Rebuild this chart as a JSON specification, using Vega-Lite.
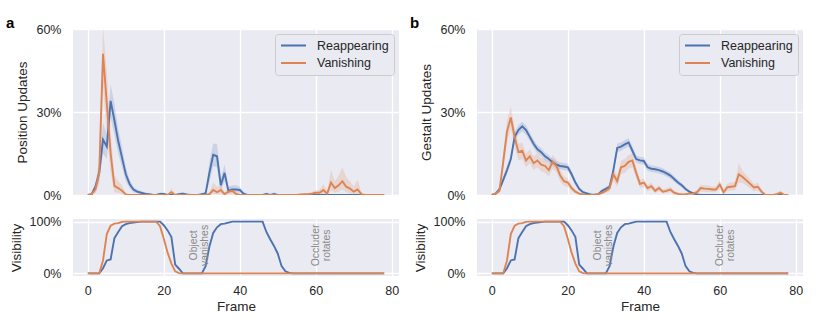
{
"$schema": "https://vega.github.io/schema/vega-lite/v6.json",
"background": "white",
"padding": {"left": 5, "top": 16, "right": 17, "bottom": 5},
"config": {
  "font": "Liberation Sans",
  "view": {"fill": "#EAEAF2", "stroke": null},
  "axis": {"domain": false, "ticks": false, "tickSize": 0, "gridColor": "#FFFFFF", "gridWidth": 1.3, "labelFont": "Liberation Sans", "titleFont": "Liberation Sans", "labelFontSize": 12.5, "titleFontSize": 13.5, "labelColor": "#262626", "titleColor": "#262626", "titleFontWeight": "normal", "labelPadding": 12, "titlePadding": 6},
  "axisX": {"labelPadding": 8, "titlePadding": 3},
  "legend": {"orient": "top-right", "offset": 5, "title": null, "symbolType": "stroke", "symbolSize": 625, "symbolStrokeWidth": 1.9, "symbolOpacity": 1, "labelFontSize": 12.5, "labelFont": "Liberation Sans", "labelColor": "#262626", "fillColor": "#EAEAF2", "strokeColor": "#CCCCCC", "padding": 5, "cornerRadius": 3, "rowPadding": 4.5, "labelOffset": 10, "clipHeight": 13}
},
"datasets": {
"upd": [
{"p":"a","s":"Reappearing","f":0,"m":0,"lo":0,"hi":0},
{"p":"a","s":"Reappearing","f":1,"m":0.3,"lo":0,"hi":0.8},
{"p":"a","s":"Reappearing","f":2,"m":3,"lo":1.5,"hi":4.5},
{"p":"a","s":"Reappearing","f":3,"m":8,"lo":5,"hi":11},
{"p":"a","s":"Reappearing","f":4,"m":20,"lo":15,"hi":26},
{"p":"a","s":"Reappearing","f":5,"m":17.5,"lo":13,"hi":22},
{"p":"a","s":"Reappearing","f":6,"m":34,"lo":28,"hi":40},
{"p":"a","s":"Reappearing","f":7,"m":27,"lo":21.5,"hi":33},
{"p":"a","s":"Reappearing","f":8,"m":19.5,"lo":15,"hi":24},
{"p":"a","s":"Reappearing","f":9,"m":13.5,"lo":10,"hi":17.5},
{"p":"a","s":"Reappearing","f":10,"m":7.5,"lo":5,"hi":10},
{"p":"a","s":"Reappearing","f":11,"m":4,"lo":2.5,"hi":5.5},
{"p":"a","s":"Reappearing","f":12,"m":2,"lo":1,"hi":3},
{"p":"a","s":"Reappearing","f":13,"m":1.2,"lo":0.5,"hi":2},
{"p":"a","s":"Reappearing","f":14,"m":0.8,"lo":0.3,"hi":1.5},
{"p":"a","s":"Reappearing","f":15,"m":0.5,"lo":0.1,"hi":1},
{"p":"a","s":"Reappearing","f":16,"m":0.3,"lo":0,"hi":0.6},
{"p":"a","s":"Reappearing","f":17,"m":0.1,"lo":0,"hi":0.3},
{"p":"a","s":"Reappearing","f":18,"m":0,"lo":0,"hi":0},
{"p":"a","s":"Reappearing","f":19,"m":0.4,"lo":0,"hi":0.9},
{"p":"a","s":"Reappearing","f":20,"m":0.4,"lo":0,"hi":0.9},
{"p":"a","s":"Reappearing","f":21,"m":0,"lo":0,"hi":0},
{"p":"a","s":"Reappearing","f":22,"m":0,"lo":0,"hi":0},
{"p":"a","s":"Reappearing","f":23,"m":0,"lo":0,"hi":0},
{"p":"a","s":"Reappearing","f":24,"m":0.3,"lo":0,"hi":0.7},
{"p":"a","s":"Reappearing","f":25,"m":0.5,"lo":0,"hi":1},
{"p":"a","s":"Reappearing","f":26,"m":0.2,"lo":0,"hi":0.5},
{"p":"a","s":"Reappearing","f":27,"m":0,"lo":0,"hi":0},
{"p":"a","s":"Reappearing","f":28,"m":0,"lo":0,"hi":0},
{"p":"a","s":"Reappearing","f":29,"m":0,"lo":0,"hi":0},
{"p":"a","s":"Reappearing","f":30,"m":0.3,"lo":0,"hi":0.7},
{"p":"a","s":"Reappearing","f":31,"m":0.6,"lo":0.1,"hi":1.2},
{"p":"a","s":"Reappearing","f":32,"m":8,"lo":4.5,"hi":12},
{"p":"a","s":"Reappearing","f":33,"m":14.5,"lo":10.5,"hi":18.5},
{"p":"a","s":"Reappearing","f":34,"m":14,"lo":10,"hi":18.5},
{"p":"a","s":"Reappearing","f":35,"m":3.5,"lo":1.5,"hi":6},
{"p":"a","s":"Reappearing","f":36,"m":8,"lo":5,"hi":11},
{"p":"a","s":"Reappearing","f":37,"m":1.5,"lo":0.5,"hi":3},
{"p":"a","s":"Reappearing","f":38,"m":2,"lo":1,"hi":3.5},
{"p":"a","s":"Reappearing","f":39,"m":2,"lo":1,"hi":3.5},
{"p":"a","s":"Reappearing","f":40,"m":1.8,"lo":0.8,"hi":3},
{"p":"a","s":"Reappearing","f":41,"m":0.5,"lo":0,"hi":1.2},
{"p":"a","s":"Reappearing","f":42,"m":0,"lo":0,"hi":0},
{"p":"a","s":"Reappearing","f":43,"m":0,"lo":0,"hi":0},
{"p":"a","s":"Reappearing","f":44,"m":0,"lo":0,"hi":0},
{"p":"a","s":"Reappearing","f":45,"m":0,"lo":0,"hi":0},
{"p":"a","s":"Reappearing","f":46,"m":0,"lo":0,"hi":0},
{"p":"a","s":"Reappearing","f":47,"m":0.4,"lo":0,"hi":1},
{"p":"a","s":"Reappearing","f":48,"m":0,"lo":0,"hi":0},
{"p":"a","s":"Reappearing","f":49,"m":0.4,"lo":0,"hi":1},
{"p":"a","s":"Reappearing","f":50,"m":0,"lo":0,"hi":0},
{"p":"a","s":"Reappearing","f":51,"m":0,"lo":0,"hi":0},
{"p":"a","s":"Reappearing","f":52,"m":0,"lo":0,"hi":0},
{"p":"a","s":"Reappearing","f":53,"m":0,"lo":0,"hi":0},
{"p":"a","s":"Reappearing","f":54,"m":0,"lo":0,"hi":0},
{"p":"a","s":"Reappearing","f":55,"m":0,"lo":0,"hi":0},
{"p":"a","s":"Reappearing","f":56,"m":0,"lo":0,"hi":0},
{"p":"a","s":"Reappearing","f":57,"m":0,"lo":0,"hi":0},
{"p":"a","s":"Reappearing","f":58,"m":0,"lo":0,"hi":0},
{"p":"a","s":"Reappearing","f":59,"m":0,"lo":0,"hi":0},
{"p":"a","s":"Reappearing","f":60,"m":0,"lo":0,"hi":0},
{"p":"a","s":"Reappearing","f":61,"m":0,"lo":0,"hi":0},
{"p":"a","s":"Reappearing","f":62,"m":0,"lo":0,"hi":0},
{"p":"a","s":"Reappearing","f":63,"m":0,"lo":0,"hi":0},
{"p":"a","s":"Reappearing","f":64,"m":0,"lo":0,"hi":0},
{"p":"a","s":"Reappearing","f":65,"m":0,"lo":0,"hi":0},
{"p":"a","s":"Reappearing","f":66,"m":0,"lo":0,"hi":0},
{"p":"a","s":"Reappearing","f":67,"m":0,"lo":0,"hi":0},
{"p":"a","s":"Reappearing","f":68,"m":0,"lo":0,"hi":0},
{"p":"a","s":"Reappearing","f":69,"m":0,"lo":0,"hi":0},
{"p":"a","s":"Reappearing","f":70,"m":0,"lo":0,"hi":0},
{"p":"a","s":"Reappearing","f":71,"m":0,"lo":0,"hi":0},
{"p":"a","s":"Reappearing","f":72,"m":0,"lo":0,"hi":0},
{"p":"a","s":"Reappearing","f":73,"m":0,"lo":0,"hi":0},
{"p":"a","s":"Reappearing","f":74,"m":0,"lo":0,"hi":0},
{"p":"a","s":"Reappearing","f":75,"m":0,"lo":0,"hi":0},
{"p":"a","s":"Reappearing","f":76,"m":0,"lo":0,"hi":0},
{"p":"a","s":"Reappearing","f":77,"m":0,"lo":0,"hi":0},
{"p":"a","s":"Reappearing","f":78,"m":0,"lo":0,"hi":0},
{"p":"a","s":"Vanishing","f":0,"m":0,"lo":0,"hi":0},
{"p":"a","s":"Vanishing","f":1,"m":0.3,"lo":0,"hi":0.8},
{"p":"a","s":"Vanishing","f":2,"m":2,"lo":0.5,"hi":3.5},
{"p":"a","s":"Vanishing","f":3,"m":8,"lo":4,"hi":13},
{"p":"a","s":"Vanishing","f":4,"m":51,"lo":39,"hi":61},
{"p":"a","s":"Vanishing","f":5,"m":33,"lo":22,"hi":45},
{"p":"a","s":"Vanishing","f":6,"m":15,"lo":8,"hi":23},
{"p":"a","s":"Vanishing","f":7,"m":3.3,"lo":1,"hi":7},
{"p":"a","s":"Vanishing","f":8,"m":2.5,"lo":0.8,"hi":5},
{"p":"a","s":"Vanishing","f":9,"m":1.5,"lo":0.3,"hi":3.5},
{"p":"a","s":"Vanishing","f":10,"m":0.2,"lo":0,"hi":0.5},
{"p":"a","s":"Vanishing","f":11,"m":0,"lo":0,"hi":0},
{"p":"a","s":"Vanishing","f":12,"m":0,"lo":0,"hi":0},
{"p":"a","s":"Vanishing","f":13,"m":0,"lo":0,"hi":0},
{"p":"a","s":"Vanishing","f":14,"m":0,"lo":0,"hi":0},
{"p":"a","s":"Vanishing","f":15,"m":0,"lo":0,"hi":0},
{"p":"a","s":"Vanishing","f":16,"m":0,"lo":0,"hi":0},
{"p":"a","s":"Vanishing","f":17,"m":0,"lo":0,"hi":0},
{"p":"a","s":"Vanishing","f":18,"m":0,"lo":0,"hi":0},
{"p":"a","s":"Vanishing","f":19,"m":0,"lo":0,"hi":0},
{"p":"a","s":"Vanishing","f":20,"m":0,"lo":0,"hi":0},
{"p":"a","s":"Vanishing","f":21,"m":0,"lo":0,"hi":0},
{"p":"a","s":"Vanishing","f":22,"m":1,"lo":0,"hi":2.5},
{"p":"a","s":"Vanishing","f":23,"m":0,"lo":0,"hi":0},
{"p":"a","s":"Vanishing","f":24,"m":0,"lo":0,"hi":0},
{"p":"a","s":"Vanishing","f":25,"m":0,"lo":0,"hi":0},
{"p":"a","s":"Vanishing","f":26,"m":0,"lo":0,"hi":0},
{"p":"a","s":"Vanishing","f":27,"m":0,"lo":0,"hi":0},
{"p":"a","s":"Vanishing","f":28,"m":0,"lo":0,"hi":0},
{"p":"a","s":"Vanishing","f":29,"m":0,"lo":0,"hi":0},
{"p":"a","s":"Vanishing","f":30,"m":0,"lo":0,"hi":0},
{"p":"a","s":"Vanishing","f":31,"m":0,"lo":0,"hi":0},
{"p":"a","s":"Vanishing","f":32,"m":0.3,"lo":0,"hi":1},
{"p":"a","s":"Vanishing","f":33,"m":1.8,"lo":0.3,"hi":4.5},
{"p":"a","s":"Vanishing","f":34,"m":1,"lo":0.2,"hi":3},
{"p":"a","s":"Vanishing","f":35,"m":1.8,"lo":0.3,"hi":3.5},
{"p":"a","s":"Vanishing","f":36,"m":0.3,"lo":0,"hi":1},
{"p":"a","s":"Vanishing","f":37,"m":1.2,"lo":0.2,"hi":2.5},
{"p":"a","s":"Vanishing","f":38,"m":1.5,"lo":0.3,"hi":2.8},
{"p":"a","s":"Vanishing","f":39,"m":0.4,"lo":0,"hi":1.2},
{"p":"a","s":"Vanishing","f":40,"m":0,"lo":0,"hi":0},
{"p":"a","s":"Vanishing","f":41,"m":0,"lo":0,"hi":0},
{"p":"a","s":"Vanishing","f":42,"m":0,"lo":0,"hi":0},
{"p":"a","s":"Vanishing","f":43,"m":0,"lo":0,"hi":0},
{"p":"a","s":"Vanishing","f":44,"m":0,"lo":0,"hi":0},
{"p":"a","s":"Vanishing","f":45,"m":0,"lo":0,"hi":0},
{"p":"a","s":"Vanishing","f":46,"m":0,"lo":0,"hi":0},
{"p":"a","s":"Vanishing","f":47,"m":0,"lo":0,"hi":0},
{"p":"a","s":"Vanishing","f":48,"m":0,"lo":0,"hi":0},
{"p":"a","s":"Vanishing","f":49,"m":0,"lo":0,"hi":0},
{"p":"a","s":"Vanishing","f":50,"m":0,"lo":0,"hi":0},
{"p":"a","s":"Vanishing","f":51,"m":0,"lo":0,"hi":0},
{"p":"a","s":"Vanishing","f":52,"m":0,"lo":0,"hi":0},
{"p":"a","s":"Vanishing","f":53,"m":0,"lo":0,"hi":0},
{"p":"a","s":"Vanishing","f":54,"m":0,"lo":0,"hi":0},
{"p":"a","s":"Vanishing","f":55,"m":0,"lo":0,"hi":0},
{"p":"a","s":"Vanishing","f":56,"m":0.2,"lo":0,"hi":0.5},
{"p":"a","s":"Vanishing","f":57,"m":0.3,"lo":0,"hi":0.7},
{"p":"a","s":"Vanishing","f":58,"m":0.3,"lo":0,"hi":0.7},
{"p":"a","s":"Vanishing","f":59,"m":0.5,"lo":0,"hi":1.2},
{"p":"a","s":"Vanishing","f":60,"m":0.8,"lo":0.1,"hi":1.8},
{"p":"a","s":"Vanishing","f":61,"m":0.8,"lo":0.1,"hi":1.8},
{"p":"a","s":"Vanishing","f":62,"m":1.8,"lo":0.3,"hi":4},
{"p":"a","s":"Vanishing","f":63,"m":0.5,"lo":0,"hi":1.5},
{"p":"a","s":"Vanishing","f":64,"m":4.5,"lo":1.5,"hi":9},
{"p":"a","s":"Vanishing","f":65,"m":2.5,"lo":0.8,"hi":5},
{"p":"a","s":"Vanishing","f":66,"m":3.5,"lo":1.2,"hi":7},
{"p":"a","s":"Vanishing","f":67,"m":5,"lo":2,"hi":10},
{"p":"a","s":"Vanishing","f":68,"m":3,"lo":1,"hi":6.5},
{"p":"a","s":"Vanishing","f":69,"m":2.3,"lo":0.5,"hi":5},
{"p":"a","s":"Vanishing","f":70,"m":1.2,"lo":0.2,"hi":3},
{"p":"a","s":"Vanishing","f":71,"m":2,"lo":0.3,"hi":5.5},
{"p":"a","s":"Vanishing","f":72,"m":0.3,"lo":0,"hi":1},
{"p":"a","s":"Vanishing","f":73,"m":0,"lo":0,"hi":0},
{"p":"a","s":"Vanishing","f":74,"m":0,"lo":0,"hi":0},
{"p":"a","s":"Vanishing","f":75,"m":0,"lo":0,"hi":0},
{"p":"a","s":"Vanishing","f":76,"m":0,"lo":0,"hi":0},
{"p":"a","s":"Vanishing","f":77,"m":0,"lo":0,"hi":0},
{"p":"a","s":"Vanishing","f":78,"m":0,"lo":0,"hi":0},
{"p":"b","s":"Reappearing","f":0,"m":0,"lo":0,"hi":0},
{"p":"b","s":"Reappearing","f":1,"m":0.5,"lo":0.2,"hi":0.9},
{"p":"b","s":"Reappearing","f":2,"m":2,"lo":1.3,"hi":2.8},
{"p":"b","s":"Reappearing","f":3,"m":5.5,"lo":4.3,"hi":6.8},
{"p":"b","s":"Reappearing","f":4,"m":9,"lo":7.7,"hi":10.5},
{"p":"b","s":"Reappearing","f":5,"m":13,"lo":11.5,"hi":14.5},
{"p":"b","s":"Reappearing","f":6,"m":21,"lo":19.3,"hi":22.7},
{"p":"b","s":"Reappearing","f":7,"m":23.5,"lo":21.8,"hi":25.2},
{"p":"b","s":"Reappearing","f":8,"m":24.8,"lo":23,"hi":26.5},
{"p":"b","s":"Reappearing","f":9,"m":23.5,"lo":21.8,"hi":25.2},
{"p":"b","s":"Reappearing","f":10,"m":21,"lo":19.4,"hi":22.6},
{"p":"b","s":"Reappearing","f":11,"m":18.5,"lo":17,"hi":20},
{"p":"b","s":"Reappearing","f":12,"m":16.5,"lo":15,"hi":18},
{"p":"b","s":"Reappearing","f":13,"m":15.5,"lo":14,"hi":17},
{"p":"b","s":"Reappearing","f":14,"m":14,"lo":12.6,"hi":15.4},
{"p":"b","s":"Reappearing","f":15,"m":13,"lo":11.6,"hi":14.4},
{"p":"b","s":"Reappearing","f":16,"m":11.8,"lo":10.5,"hi":13.1},
{"p":"b","s":"Reappearing","f":17,"m":11,"lo":9.7,"hi":12.3},
{"p":"b","s":"Reappearing","f":18,"m":10.5,"lo":9.2,"hi":11.8},
{"p":"b","s":"Reappearing","f":19,"m":10.3,"lo":9,"hi":11.6},
{"p":"b","s":"Reappearing","f":20,"m":10,"lo":8.7,"hi":11.3},
{"p":"b","s":"Reappearing","f":21,"m":7.5,"lo":6.3,"hi":8.7},
{"p":"b","s":"Reappearing","f":22,"m":4.5,"lo":3.5,"hi":5.5},
{"p":"b","s":"Reappearing","f":23,"m":2.2,"lo":1.5,"hi":3},
{"p":"b","s":"Reappearing","f":24,"m":1,"lo":0.5,"hi":1.5},
{"p":"b","s":"Reappearing","f":25,"m":0.6,"lo":0.2,"hi":1},
{"p":"b","s":"Reappearing","f":26,"m":0.2,"lo":0,"hi":0.5},
{"p":"b","s":"Reappearing","f":27,"m":0.1,"lo":0,"hi":0.3},
{"p":"b","s":"Reappearing","f":28,"m":0.3,"lo":0,"hi":0.6},
{"p":"b","s":"Reappearing","f":29,"m":1.5,"lo":0.9,"hi":2.1},
{"p":"b","s":"Reappearing","f":30,"m":2.2,"lo":1.5,"hi":2.9},
{"p":"b","s":"Reappearing","f":31,"m":3,"lo":2.2,"hi":3.8},
{"p":"b","s":"Reappearing","f":32,"m":9,"lo":7.7,"hi":10.3},
{"p":"b","s":"Reappearing","f":33,"m":17,"lo":15.5,"hi":18.5},
{"p":"b","s":"Reappearing","f":34,"m":17.5,"lo":16,"hi":19},
{"p":"b","s":"Reappearing","f":35,"m":18.3,"lo":16.8,"hi":19.8},
{"p":"b","s":"Reappearing","f":36,"m":19,"lo":17.5,"hi":20.5},
{"p":"b","s":"Reappearing","f":37,"m":16,"lo":14.5,"hi":17.5},
{"p":"b","s":"Reappearing","f":38,"m":13,"lo":11.7,"hi":14.3},
{"p":"b","s":"Reappearing","f":39,"m":12.5,"lo":11.2,"hi":13.8},
{"p":"b","s":"Reappearing","f":40,"m":12.3,"lo":11,"hi":13.6},
{"p":"b","s":"Reappearing","f":41,"m":10,"lo":8.8,"hi":11.2},
{"p":"b","s":"Reappearing","f":42,"m":9.5,"lo":8.3,"hi":10.7},
{"p":"b","s":"Reappearing","f":43,"m":9.3,"lo":8.1,"hi":10.5},
{"p":"b","s":"Reappearing","f":44,"m":9,"lo":7.8,"hi":10.2},
{"p":"b","s":"Reappearing","f":45,"m":8.5,"lo":7.3,"hi":9.7},
{"p":"b","s":"Reappearing","f":46,"m":7.8,"lo":6.7,"hi":8.9},
{"p":"b","s":"Reappearing","f":47,"m":7,"lo":5.9,"hi":8.1},
{"p":"b","s":"Reappearing","f":48,"m":5.8,"lo":4.8,"hi":6.8},
{"p":"b","s":"Reappearing","f":49,"m":4.5,"lo":3.6,"hi":5.4},
{"p":"b","s":"Reappearing","f":50,"m":3.5,"lo":2.7,"hi":4.3},
{"p":"b","s":"Reappearing","f":51,"m":2.2,"lo":1.5,"hi":2.9},
{"p":"b","s":"Reappearing","f":52,"m":1.2,"lo":0.7,"hi":1.7},
{"p":"b","s":"Reappearing","f":53,"m":0.6,"lo":0.2,"hi":1},
{"p":"b","s":"Reappearing","f":54,"m":0.2,"lo":0,"hi":0.5},
{"p":"b","s":"Reappearing","f":55,"m":0,"lo":0,"hi":0},
{"p":"b","s":"Reappearing","f":56,"m":0,"lo":0,"hi":0},
{"p":"b","s":"Reappearing","f":57,"m":0,"lo":0,"hi":0},
{"p":"b","s":"Reappearing","f":58,"m":0,"lo":0,"hi":0},
{"p":"b","s":"Reappearing","f":59,"m":0,"lo":0,"hi":0},
{"p":"b","s":"Reappearing","f":60,"m":0,"lo":0,"hi":0},
{"p":"b","s":"Reappearing","f":61,"m":0,"lo":0,"hi":0},
{"p":"b","s":"Reappearing","f":62,"m":0,"lo":0,"hi":0},
{"p":"b","s":"Reappearing","f":63,"m":0,"lo":0,"hi":0},
{"p":"b","s":"Reappearing","f":64,"m":0,"lo":0,"hi":0},
{"p":"b","s":"Reappearing","f":65,"m":0,"lo":0,"hi":0},
{"p":"b","s":"Reappearing","f":66,"m":0,"lo":0,"hi":0},
{"p":"b","s":"Reappearing","f":67,"m":0,"lo":0,"hi":0},
{"p":"b","s":"Reappearing","f":68,"m":0,"lo":0,"hi":0},
{"p":"b","s":"Reappearing","f":69,"m":0,"lo":0,"hi":0},
{"p":"b","s":"Reappearing","f":70,"m":0,"lo":0,"hi":0},
{"p":"b","s":"Reappearing","f":71,"m":0,"lo":0,"hi":0},
{"p":"b","s":"Reappearing","f":72,"m":0,"lo":0,"hi":0},
{"p":"b","s":"Reappearing","f":73,"m":0,"lo":0,"hi":0},
{"p":"b","s":"Reappearing","f":74,"m":0,"lo":0,"hi":0},
{"p":"b","s":"Reappearing","f":75,"m":0,"lo":0,"hi":0},
{"p":"b","s":"Reappearing","f":76,"m":0,"lo":0,"hi":0},
{"p":"b","s":"Reappearing","f":77,"m":0,"lo":0,"hi":0},
{"p":"b","s":"Reappearing","f":78,"m":0,"lo":0,"hi":0},
{"p":"b","s":"Vanishing","f":0,"m":0,"lo":0,"hi":0},
{"p":"b","s":"Vanishing","f":1,"m":0.5,"lo":0,"hi":1.2},
{"p":"b","s":"Vanishing","f":2,"m":1.5,"lo":0.5,"hi":2.8},
{"p":"b","s":"Vanishing","f":3,"m":12,"lo":9,"hi":15},
{"p":"b","s":"Vanishing","f":4,"m":23,"lo":19,"hi":27},
{"p":"b","s":"Vanishing","f":5,"m":28,"lo":24,"hi":32},
{"p":"b","s":"Vanishing","f":6,"m":21,"lo":17.5,"hi":24.5},
{"p":"b","s":"Vanishing","f":7,"m":15.5,"lo":12.5,"hi":18.5},
{"p":"b","s":"Vanishing","f":8,"m":16,"lo":13,"hi":19},
{"p":"b","s":"Vanishing","f":9,"m":12.5,"lo":10,"hi":15},
{"p":"b","s":"Vanishing","f":10,"m":14,"lo":11.5,"hi":16.5},
{"p":"b","s":"Vanishing","f":11,"m":11.5,"lo":9,"hi":14},
{"p":"b","s":"Vanishing","f":12,"m":12.5,"lo":10,"hi":15},
{"p":"b","s":"Vanishing","f":13,"m":11,"lo":8.5,"hi":13.5},
{"p":"b","s":"Vanishing","f":14,"m":10.5,"lo":8,"hi":13},
{"p":"b","s":"Vanishing","f":15,"m":9,"lo":6.8,"hi":11.2},
{"p":"b","s":"Vanishing","f":16,"m":12,"lo":9.5,"hi":14.5},
{"p":"b","s":"Vanishing","f":17,"m":10.5,"lo":8.2,"hi":12.8},
{"p":"b","s":"Vanishing","f":18,"m":7,"lo":5,"hi":9},
{"p":"b","s":"Vanishing","f":19,"m":5,"lo":3.3,"hi":6.7},
{"p":"b","s":"Vanishing","f":20,"m":4.5,"lo":3,"hi":6},
{"p":"b","s":"Vanishing","f":21,"m":2.5,"lo":1.4,"hi":3.6},
{"p":"b","s":"Vanishing","f":22,"m":1.2,"lo":0.5,"hi":2},
{"p":"b","s":"Vanishing","f":23,"m":0.5,"lo":0,"hi":1},
{"p":"b","s":"Vanishing","f":24,"m":0.2,"lo":0,"hi":0.5},
{"p":"b","s":"Vanishing","f":25,"m":0,"lo":0,"hi":0},
{"p":"b","s":"Vanishing","f":26,"m":0,"lo":0,"hi":0},
{"p":"b","s":"Vanishing","f":27,"m":0,"lo":0,"hi":0},
{"p":"b","s":"Vanishing","f":28,"m":0.3,"lo":0,"hi":0.7},
{"p":"b","s":"Vanishing","f":29,"m":0.8,"lo":0.2,"hi":1.5},
{"p":"b","s":"Vanishing","f":30,"m":1.5,"lo":0.7,"hi":2.5},
{"p":"b","s":"Vanishing","f":31,"m":2.5,"lo":1.3,"hi":3.8},
{"p":"b","s":"Vanishing","f":32,"m":7.5,"lo":5.2,"hi":9.8},
{"p":"b","s":"Vanishing","f":33,"m":5,"lo":3,"hi":7},
{"p":"b","s":"Vanishing","f":34,"m":10,"lo":7.5,"hi":12.5},
{"p":"b","s":"Vanishing","f":35,"m":10.5,"lo":8,"hi":13},
{"p":"b","s":"Vanishing","f":36,"m":12,"lo":9.5,"hi":14.5},
{"p":"b","s":"Vanishing","f":37,"m":12.5,"lo":10,"hi":15},
{"p":"b","s":"Vanishing","f":38,"m":8,"lo":6,"hi":10},
{"p":"b","s":"Vanishing","f":39,"m":4,"lo":2.5,"hi":5.5},
{"p":"b","s":"Vanishing","f":40,"m":4.5,"lo":3,"hi":6},
{"p":"b","s":"Vanishing","f":41,"m":2.5,"lo":1.4,"hi":3.6},
{"p":"b","s":"Vanishing","f":42,"m":3.2,"lo":2,"hi":4.5},
{"p":"b","s":"Vanishing","f":43,"m":1.5,"lo":0.7,"hi":2.4},
{"p":"b","s":"Vanishing","f":44,"m":2.5,"lo":1.4,"hi":3.6},
{"p":"b","s":"Vanishing","f":45,"m":1.2,"lo":0.5,"hi":2},
{"p":"b","s":"Vanishing","f":46,"m":1.5,"lo":0.7,"hi":2.4},
{"p":"b","s":"Vanishing","f":47,"m":2,"lo":1,"hi":3},
{"p":"b","s":"Vanishing","f":48,"m":0.8,"lo":0.2,"hi":1.5},
{"p":"b","s":"Vanishing","f":49,"m":0.4,"lo":0,"hi":0.9},
{"p":"b","s":"Vanishing","f":50,"m":0.2,"lo":0,"hi":0.5},
{"p":"b","s":"Vanishing","f":51,"m":0.3,"lo":0,"hi":0.7},
{"p":"b","s":"Vanishing","f":52,"m":0.5,"lo":0,"hi":1.1},
{"p":"b","s":"Vanishing","f":53,"m":0.5,"lo":0,"hi":1.1},
{"p":"b","s":"Vanishing","f":54,"m":1,"lo":0.3,"hi":1.8},
{"p":"b","s":"Vanishing","f":55,"m":2.5,"lo":1.3,"hi":3.7},
{"p":"b","s":"Vanishing","f":56,"m":2.3,"lo":1.1,"hi":3.5},
{"p":"b","s":"Vanishing","f":57,"m":2.2,"lo":1.1,"hi":3.4},
{"p":"b","s":"Vanishing","f":58,"m":2,"lo":1,"hi":3.1},
{"p":"b","s":"Vanishing","f":59,"m":2,"lo":1,"hi":3.1},
{"p":"b","s":"Vanishing","f":60,"m":3.8,"lo":2.2,"hi":5.4},
{"p":"b","s":"Vanishing","f":61,"m":1,"lo":0.3,"hi":1.8},
{"p":"b","s":"Vanishing","f":62,"m":2.8,"lo":1.5,"hi":4.2},
{"p":"b","s":"Vanishing","f":63,"m":3,"lo":1.6,"hi":4.5},
{"p":"b","s":"Vanishing","f":64,"m":3.2,"lo":1.7,"hi":4.8},
{"p":"b","s":"Vanishing","f":65,"m":7.5,"lo":4.5,"hi":11.5},
{"p":"b","s":"Vanishing","f":66,"m":6.5,"lo":4.3,"hi":8.7},
{"p":"b","s":"Vanishing","f":67,"m":5.3,"lo":3.4,"hi":7.2},
{"p":"b","s":"Vanishing","f":68,"m":4,"lo":2.4,"hi":5.6},
{"p":"b","s":"Vanishing","f":69,"m":2.7,"lo":1.4,"hi":4},
{"p":"b","s":"Vanishing","f":70,"m":3,"lo":1.6,"hi":4.4},
{"p":"b","s":"Vanishing","f":71,"m":1.2,"lo":0.4,"hi":2},
{"p":"b","s":"Vanishing","f":72,"m":0,"lo":0,"hi":0.3},
{"p":"b","s":"Vanishing","f":73,"m":0,"lo":0,"hi":0},
{"p":"b","s":"Vanishing","f":74,"m":0,"lo":0,"hi":0},
{"p":"b","s":"Vanishing","f":75,"m":0.3,"lo":0,"hi":0.8},
{"p":"b","s":"Vanishing","f":76,"m":0.8,"lo":0,"hi":1.6},
{"p":"b","s":"Vanishing","f":77,"m":0,"lo":0,"hi":0.3},
{"p":"b","s":"Vanishing","f":78,"m":0,"lo":0,"hi":0}
],
"vis": [
{"s":"Reappearing","f":0,"v":0},{"s":"Reappearing","f":1,"v":0},{"s":"Reappearing","f":2,"v":0},{"s":"Reappearing","f":3,"v":0},
{"s":"Reappearing","f":4,"v":10},{"s":"Reappearing","f":5,"v":25},{"s":"Reappearing","f":6,"v":27},{"s":"Reappearing","f":7,"v":68},
{"s":"Reappearing","f":8,"v":80},{"s":"Reappearing","f":9,"v":91},{"s":"Reappearing","f":10,"v":95},{"s":"Reappearing","f":11,"v":97},
{"s":"Reappearing","f":12,"v":98},{"s":"Reappearing","f":13,"v":99},{"s":"Reappearing","f":14,"v":100},{"s":"Reappearing","f":15,"v":100},
{"s":"Reappearing","f":16,"v":100},{"s":"Reappearing","f":17,"v":100},{"s":"Reappearing","f":18,"v":100},{"s":"Reappearing","f":19,"v":100},
{"s":"Reappearing","f":20,"v":93},{"s":"Reappearing","f":21,"v":83},{"s":"Reappearing","f":22,"v":70},{"s":"Reappearing","f":23,"v":17},
{"s":"Reappearing","f":24,"v":9},{"s":"Reappearing","f":25,"v":0},{"s":"Reappearing","f":26,"v":0},{"s":"Reappearing","f":27,"v":0},
{"s":"Reappearing","f":28,"v":0},{"s":"Reappearing","f":29,"v":0},{"s":"Reappearing","f":30,"v":0},{"s":"Reappearing","f":31,"v":14},
{"s":"Reappearing","f":32,"v":52},{"s":"Reappearing","f":33,"v":78},{"s":"Reappearing","f":34,"v":89},{"s":"Reappearing","f":35,"v":95},
{"s":"Reappearing","f":36,"v":96},{"s":"Reappearing","f":37,"v":98},{"s":"Reappearing","f":38,"v":100},{"s":"Reappearing","f":39,"v":100},
{"s":"Reappearing","f":40,"v":100},{"s":"Reappearing","f":41,"v":100},{"s":"Reappearing","f":42,"v":100},{"s":"Reappearing","f":43,"v":100},
{"s":"Reappearing","f":44,"v":100},{"s":"Reappearing","f":45,"v":100},{"s":"Reappearing","f":46,"v":100},{"s":"Reappearing","f":47,"v":80},
{"s":"Reappearing","f":48,"v":66},{"s":"Reappearing","f":49,"v":53},{"s":"Reappearing","f":50,"v":38},{"s":"Reappearing","f":51,"v":14},
{"s":"Reappearing","f":52,"v":4},{"s":"Reappearing","f":53,"v":1},{"s":"Reappearing","f":54,"v":0},{"s":"Reappearing","f":55,"v":0},
{"s":"Reappearing","f":56,"v":0},{"s":"Reappearing","f":57,"v":0},{"s":"Reappearing","f":58,"v":0},{"s":"Reappearing","f":59,"v":0},
{"s":"Reappearing","f":60,"v":0},{"s":"Reappearing","f":61,"v":0},{"s":"Reappearing","f":62,"v":0},{"s":"Reappearing","f":63,"v":0},
{"s":"Reappearing","f":64,"v":0},{"s":"Reappearing","f":65,"v":0},{"s":"Reappearing","f":66,"v":0},{"s":"Reappearing","f":67,"v":0},
{"s":"Reappearing","f":68,"v":0},{"s":"Reappearing","f":69,"v":0},{"s":"Reappearing","f":70,"v":0},{"s":"Reappearing","f":71,"v":0},
{"s":"Reappearing","f":72,"v":0},{"s":"Reappearing","f":73,"v":0},{"s":"Reappearing","f":74,"v":0},{"s":"Reappearing","f":75,"v":0},
{"s":"Reappearing","f":76,"v":0},{"s":"Reappearing","f":77,"v":0},{"s":"Reappearing","f":78,"v":0},
{"s":"Vanishing","f":0,"v":0},{"s":"Vanishing","f":1,"v":0},{"s":"Vanishing","f":2,"v":0},{"s":"Vanishing","f":3,"v":0},
{"s":"Vanishing","f":4,"v":25},{"s":"Vanishing","f":5,"v":76},{"s":"Vanishing","f":6,"v":92},{"s":"Vanishing","f":7,"v":96},
{"s":"Vanishing","f":8,"v":97},{"s":"Vanishing","f":9,"v":99.5},{"s":"Vanishing","f":10,"v":100},{"s":"Vanishing","f":11,"v":100},
{"s":"Vanishing","f":12,"v":100},{"s":"Vanishing","f":13,"v":100},{"s":"Vanishing","f":14,"v":100},{"s":"Vanishing","f":15,"v":100},
{"s":"Vanishing","f":16,"v":100},{"s":"Vanishing","f":17,"v":100},{"s":"Vanishing","f":18,"v":100},{"s":"Vanishing","f":19,"v":91},
{"s":"Vanishing","f":20,"v":67},{"s":"Vanishing","f":21,"v":40},{"s":"Vanishing","f":22,"v":19},{"s":"Vanishing","f":23,"v":4},
{"s":"Vanishing","f":24,"v":0.5},{"s":"Vanishing","f":25,"v":0},{"s":"Vanishing","f":26,"v":0},{"s":"Vanishing","f":27,"v":0},
{"s":"Vanishing","f":28,"v":0},{"s":"Vanishing","f":29,"v":0},{"s":"Vanishing","f":30,"v":0},{"s":"Vanishing","f":31,"v":0},
{"s":"Vanishing","f":32,"v":0},{"s":"Vanishing","f":33,"v":0},{"s":"Vanishing","f":34,"v":0},{"s":"Vanishing","f":35,"v":0},
{"s":"Vanishing","f":36,"v":0},{"s":"Vanishing","f":37,"v":0},{"s":"Vanishing","f":38,"v":0},{"s":"Vanishing","f":39,"v":0},
{"s":"Vanishing","f":40,"v":0},{"s":"Vanishing","f":41,"v":0},{"s":"Vanishing","f":42,"v":0},{"s":"Vanishing","f":43,"v":0},
{"s":"Vanishing","f":44,"v":0},{"s":"Vanishing","f":45,"v":0},{"s":"Vanishing","f":46,"v":0},{"s":"Vanishing","f":47,"v":0},
{"s":"Vanishing","f":48,"v":0},{"s":"Vanishing","f":49,"v":0},{"s":"Vanishing","f":50,"v":0},{"s":"Vanishing","f":51,"v":0},
{"s":"Vanishing","f":52,"v":0},{"s":"Vanishing","f":53,"v":0},{"s":"Vanishing","f":54,"v":0},{"s":"Vanishing","f":55,"v":0},
{"s":"Vanishing","f":56,"v":0},{"s":"Vanishing","f":57,"v":0},{"s":"Vanishing","f":58,"v":0},{"s":"Vanishing","f":59,"v":0},
{"s":"Vanishing","f":60,"v":0},{"s":"Vanishing","f":61,"v":0},{"s":"Vanishing","f":62,"v":0},{"s":"Vanishing","f":63,"v":0},
{"s":"Vanishing","f":64,"v":0},{"s":"Vanishing","f":65,"v":0},{"s":"Vanishing","f":66,"v":0},{"s":"Vanishing","f":67,"v":0},
{"s":"Vanishing","f":68,"v":0},{"s":"Vanishing","f":69,"v":0},{"s":"Vanishing","f":70,"v":0},{"s":"Vanishing","f":71,"v":0},
{"s":"Vanishing","f":72,"v":0},{"s":"Vanishing","f":73,"v":0},{"s":"Vanishing","f":74,"v":0},{"s":"Vanishing","f":75,"v":0},
{"s":"Vanishing","f":76,"v":0},{"s":"Vanishing","f":77,"v":0},{"s":"Vanishing","f":78,"v":0}
],
"ann": [
{"f": 28, "v": 54, "t": "Object\nvanishes"},
{"f": 60, "v": 54, "t": "Occluder\nrotates"}
]
},
"spacing": 10,
"resolve": {"scale": {"color": "independent"}, "legend": {"color": "independent"}},
"hconcat": [
{
 "spacing": 13,
 "resolve": {"scale": {"color": "independent"}, "legend": {"color": "independent"}},
 "vconcat": [
  {
   "width": 326, "height": 166,
   "title": {"text": "a", "anchor": "start", "frame": "bounds", "fontSize": 15, "fontWeight": "bold", "font": "Liberation Sans", "color": "#000000", "offset": 0, "baseline": "alphabetic", "dx": -10, "dy": 20},
   "data": {"name": "upd"},
   "transform": [{"filter": "datum.p === 'a'"}],
   "encoding": {
     "x": {"field": "f", "type": "quantitative", "scale": {"domain": [-3.9, 81.9], "nice": false, "zero": false}, "axis": {"values": [0, 20, 40, 60, 80], "labels": false, "title": null}},
     "color": {"field": "s", "type": "nominal", "scale": {"domain": ["Reappearing", "Vanishing"], "range": ["#4C72B0", "#DD8452"]}, "legend": {}}
   },
   "layer": [
     {"mark": {"type": "area", "opacity": 0.2, "clip": true},
      "encoding": {
        "y": {"field": "lo", "type": "quantitative", "scale": {"domain": [0, 60], "nice": false, "zero": false}, "axis": {"values": [0, 30, 60], "labelExpr": "datum.value + '%'", "title": "Position Updates"}},
        "y2": {"field": "hi"}}},
     {"mark": {"type": "line", "strokeWidth": 1.9, "clip": true},
      "encoding": {
        "y": {"field": "m", "type": "quantitative"}}}
   ]
  },
  {
   "width": 326, "height": 57,
   "encoding": {
     "x": {"field": "f", "type": "quantitative", "scale": {"domain": [-3.9, 81.9], "nice": false, "zero": false}, "axis": {"values": [0, 20, 40, 60, 80], "format": "d", "title": "Frame"}},
     "y": {"field": "v", "type": "quantitative", "scale": {"domain": [-5, 105], "nice": false, "zero": false}, "axis": {"values": [0, 100], "labelExpr": "datum.value + '%'", "title": "Visibility"}}
   },
   "layer": [
     {"data": {"name": "vis"}, "mark": {"type": "line", "strokeWidth": 1.9},
      "encoding": {"color": {"field": "s", "type": "nominal", "scale": {"domain": ["Reappearing", "Vanishing"], "range": ["#4C72B0", "#DD8452"]}, "legend": null}}},
     {"data": {"name": "ann"}, "mark": {"type": "text", "angle": 270, "align": "center", "baseline": "middle", "lineBreak": "\n", "lineHeight": 11, "fontSize": 10.4, "color": "#8A8A8A", "font": "Liberation Sans"},
      "encoding": {"text": {"field": "t"}}}
   ]
  }
 ]
},
{
 "spacing": 13,
 "resolve": {"scale": {"color": "independent"}, "legend": {"color": "independent"}},
 "vconcat": [
  {
   "width": 326, "height": 166,
   "title": {"text": "b", "anchor": "start", "frame": "bounds", "fontSize": 15, "fontWeight": "bold", "font": "Liberation Sans", "color": "#000000", "offset": 0, "baseline": "alphabetic", "dx": -10, "dy": 20},
   "data": {"name": "upd"},
   "transform": [{"filter": "datum.p === 'b'"}],
   "encoding": {
     "x": {"field": "f", "type": "quantitative", "scale": {"domain": [-3.9, 81.9], "nice": false, "zero": false}, "axis": {"values": [0, 20, 40, 60, 80], "labels": false, "title": null}},
     "color": {"field": "s", "type": "nominal", "scale": {"domain": ["Reappearing", "Vanishing"], "range": ["#4C72B0", "#DD8452"]}, "legend": {}}
   },
   "layer": [
     {"mark": {"type": "area", "opacity": 0.2, "clip": true},
      "encoding": {
        "y": {"field": "lo", "type": "quantitative", "scale": {"domain": [0, 60], "nice": false, "zero": false}, "axis": {"values": [0, 30, 60], "labelExpr": "datum.value + '%'", "title": "Gestalt Updates"}},
        "y2": {"field": "hi"}}},
     {"mark": {"type": "line", "strokeWidth": 1.9, "clip": true},
      "encoding": {
        "y": {"field": "m", "type": "quantitative"}}}
   ]
  },
  {
   "width": 326, "height": 57,
   "encoding": {
     "x": {"field": "f", "type": "quantitative", "scale": {"domain": [-3.9, 81.9], "nice": false, "zero": false}, "axis": {"values": [0, 20, 40, 60, 80], "format": "d", "title": "Frame"}},
     "y": {"field": "v", "type": "quantitative", "scale": {"domain": [-5, 105], "nice": false, "zero": false}, "axis": {"values": [0, 100], "labelExpr": "datum.value + '%'", "title": "Visibility"}}
   },
   "layer": [
     {"data": {"name": "vis"}, "mark": {"type": "line", "strokeWidth": 1.9},
      "encoding": {"color": {"field": "s", "type": "nominal", "scale": {"domain": ["Reappearing", "Vanishing"], "range": ["#4C72B0", "#DD8452"]}, "legend": null}}},
     {"data": {"name": "ann"}, "mark": {"type": "text", "angle": 270, "align": "center", "baseline": "middle", "lineBreak": "\n", "lineHeight": 11, "fontSize": 10.4, "color": "#8A8A8A", "font": "Liberation Sans"},
      "encoding": {"text": {"field": "t"}}}
   ]
  }
 ]
}
]
}
